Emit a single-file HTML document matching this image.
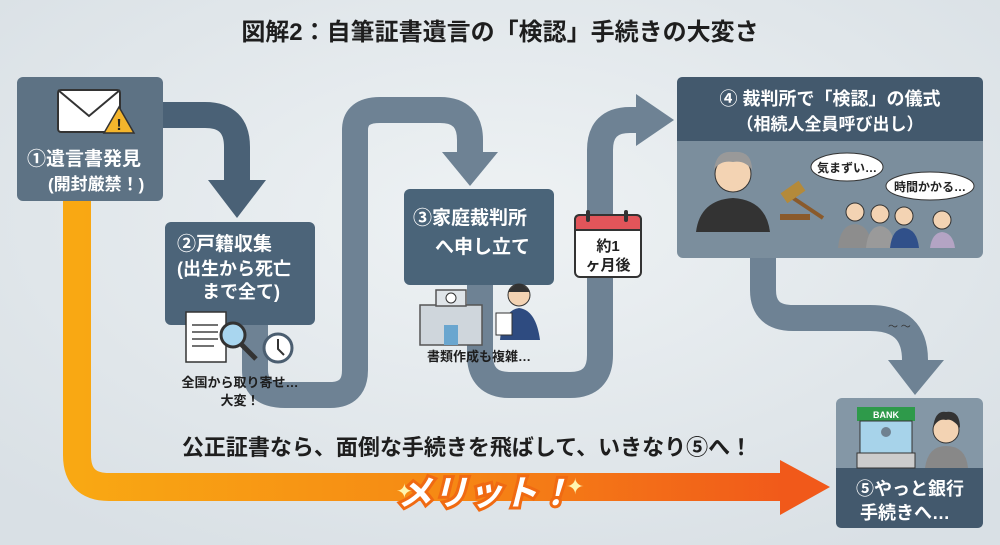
<!DOCTYPE html>
<html><head><meta charset="utf-8"><style>
html,body{margin:0;padding:0;background:#e4eaee;}
svg{display:block;font-family:"Liberation Sans","Noto Sans CJK JP",sans-serif;}
</style></head><body>
<svg width="1000" height="545" viewBox="0 0 1000 545" xmlns="http://www.w3.org/2000/svg">
<defs>
<radialGradient id="bg" cx="50%" cy="40%" r="70%"><stop offset="0" stop-color="#eef2f4"/><stop offset="1" stop-color="#d9e0e5"/></radialGradient>
<linearGradient id="og" x1="0" y1="0" x2="1" y2="0"><stop offset="0" stop-color="#f9a813"/><stop offset="0.5" stop-color="#f68a14"/><stop offset="1" stop-color="#f1591a"/></linearGradient>
</defs>
<rect width="1000" height="545" fill="url(#bg)"/>
<text x="500" y="40" text-anchor="middle" font-size="24" font-weight="bold" fill="#1e1e1e">図解2：自筆証書遺言の「検認」手続きの大変さ</text>

<path d="M77 200 V455 Q77 487 109 487 H790" fill="none" stroke="url(#og)" stroke-width="28"/>
<polygon points="780,460 830,487 780,515" fill="#f1591a"/>

<path d="M160 115 H205 Q237 115 237 147 V190" fill="none" stroke="#4a6176" stroke-width="26"/>
<polygon points="208,180 266,180 237,218" fill="#4a6176"/>

<path d="M255 320 V370 Q255 395 285 395 H330 Q355 395 355 370 V130 Q355 110 380 110 H440 Q470 110 470 140 V160" fill="none" stroke="#6e8294" stroke-width="26"/>
<polygon points="442,152 498,152 470,186" fill="#6e8294"/>

<path d="M480 280 V355 Q480 385 510 385 H570 Q600 385 600 355 V150 Q600 120 630 120 H648" fill="none" stroke="#6e8294" stroke-width="26"/>
<polygon points="636,94 674,120 636,146" fill="#6e8294"/>

<path d="M763 255 V290 Q763 318 793 318 H870 Q915 318 915 360 V365" fill="none" stroke="#6e8294" stroke-width="26"/>
<polygon points="888,360 944,360 915,395" fill="#6e8294"/>
<text x="888" y="330" font-size="10" fill="#333">～ ～</text>

<rect x="17" y="77" width="146" height="124" rx="6" fill="#5d7284"/>
<rect x="58" y="90" width="62" height="42" rx="3" fill="#fff" stroke="#333" stroke-width="2"/>
<path d="M58 90 L89 116 L120 90" fill="none" stroke="#333" stroke-width="2"/>
<polygon points="119,107 104,133 134,133" fill="#f4b52c" stroke="#333" stroke-width="1.5"/>
<text x="119" y="130" text-anchor="middle" font-size="16" font-weight="bold" fill="#222">!</text>
<text x="27" y="165" font-size="19" font-weight="bold" fill="#fff">①遺言書発見</text>
<text x="48" y="190" font-size="17" font-weight="bold" fill="#fff">(開封厳禁！)</text>

<rect x="165" y="222" width="150" height="103" rx="6" fill="#4c6479"/>
<text x="177" y="250" font-size="19" font-weight="bold" fill="#fff">②戸籍収集</text>
<text x="177" y="275" font-size="18" font-weight="bold" fill="#fff">(出生から死亡</text>
<text x="202" y="298" font-size="18" font-weight="bold" fill="#fff">まで全て)</text>
<rect x="186" y="312" width="40" height="50" fill="#fff" stroke="#333" stroke-width="1.5"/>
<g stroke="#444" stroke-width="1.5"><line x1="192" y1="325" x2="218" y2="325"/><line x1="192" y1="332" x2="218" y2="332"/><line x1="192" y1="339" x2="218" y2="339"/><line x1="192" y1="346" x2="214" y2="346"/></g>
<circle cx="233" cy="335" r="12" fill="#a9d6ef" stroke="#333" stroke-width="3"/>
<line x1="241" y1="344" x2="256" y2="359" stroke="#333" stroke-width="5"/>
<circle cx="278" cy="348" r="14" fill="#fff" stroke="#4b5e70" stroke-width="3"/>
<path d="M278 339 V349 L284 355" stroke="#333" stroke-width="2" fill="none"/>
<text x="240" y="387" text-anchor="middle" font-size="13" font-weight="bold" fill="#1e1e1e">全国から取り寄せ…</text>
<text x="240" y="405" text-anchor="middle" font-size="13" font-weight="bold" fill="#1e1e1e">大変！</text>

<rect x="404" y="189" width="150" height="96" rx="6" fill="#4a6479"/>
<text x="413" y="224" font-size="19" font-weight="bold" fill="#fff">③家庭裁判所</text>
<text x="435" y="253" font-size="19" font-weight="bold" fill="#fff">へ申し立て</text>
<rect x="420" y="305" width="62" height="40" fill="#cfd6dc" stroke="#555" stroke-width="1.5"/>
<rect x="436" y="290" width="30" height="16" fill="#dfe4e8" stroke="#555" stroke-width="1.5"/>
<circle cx="451" cy="298" r="5" fill="#fff" stroke="#333"/>
<rect x="444" y="325" width="14" height="20" fill="#6aa6cf"/>
<circle cx="519" cy="295" r="11" fill="#f3d3b3" stroke="#333"/>
<path d="M508 292 Q519 276 530 292" fill="#333"/>
<path d="M500 340 Q503 310 519 308 Q536 310 540 340 Z" fill="#2e4b80"/>
<rect x="496" y="313" width="16" height="22" fill="#fff" stroke="#333"/>
<text x="479" y="361" text-anchor="middle" font-size="13" font-weight="bold" fill="#1e1e1e">書類作成も複雑…</text>

<rect x="575" y="215" width="66" height="62" rx="5" fill="#fff" stroke="#333" stroke-width="2"/>
<path d="M575 230 V220 Q575 215 580 215 H636 Q641 215 641 220 V230 Z" fill="#e2555a" stroke="#333" stroke-width="2"/>
<rect x="586" y="210" width="4" height="12" rx="2" fill="#333"/><rect x="624" y="210" width="4" height="12" rx="2" fill="#333"/>
<text x="608" y="251" text-anchor="middle" font-size="15" font-weight="bold" fill="#222">約1</text>
<text x="608" y="270" text-anchor="middle" font-size="15" font-weight="bold" fill="#222">ヶ月後</text>

<rect x="677" y="77" width="306" height="181" rx="6" fill="#7b8e9d"/>
<path d="M677 141 V83 Q677 77 683 77 H977 Q983 77 983 83 V141 Z" fill="#43596d"/>
<text x="830" y="105" text-anchor="middle" font-size="18" font-weight="bold" fill="#fff">④ 裁判所で「検認」の儀式</text>
<text x="830" y="130" text-anchor="middle" font-size="17" font-weight="bold" fill="#fff">（相続人全員呼び出し）</text>
<path d="M696 232 Q700 200 733 198 Q766 200 770 232 Z" fill="#333"/>
<circle cx="733" cy="174" r="18" fill="#f3d3b3" stroke="#333"/>
<path d="M714 170 Q716 150 733 152 Q752 150 752 170 Q745 160 733 162 Q720 160 714 170Z" fill="#999"/>
<rect x="780" y="214" width="30" height="6" fill="#8a5a2b"/>
<line x1="793" y1="198" x2="823" y2="218" stroke="#8a5a2b" stroke-width="4"/>
<rect x="782" y="186" width="22" height="12" fill="#b48a3a" transform="rotate(-35 793 192)"/>
<ellipse cx="847" cy="167" rx="36" ry="14" fill="#fff" stroke="#333"/>
<text x="847" y="172" text-anchor="middle" font-size="12" font-weight="bold" fill="#222">気まずい…</text>
<ellipse cx="930" cy="186" rx="44" ry="14" fill="#fff" stroke="#333"/>
<text x="930" y="191" text-anchor="middle" font-size="12" font-weight="bold" fill="#222">時間かかる…</text>
<g fill="#f3d3b3" stroke="#333"><circle cx="855" cy="212" r="9"/><circle cx="880" cy="214" r="9"/><circle cx="904" cy="216" r="9"/><circle cx="942" cy="220" r="9"/></g>
<g><path d="M838 248 Q840 225 855 224 Q870 225 872 248Z" fill="#8d8d8d"/><path d="M866 248 Q868 227 880 226 Q893 227 895 248Z" fill="#9a9a9a"/><path d="M890 248 Q892 229 904 228 Q917 229 919 248Z" fill="#30508a"/><path d="M930 248 Q932 233 942 232 Q953 233 955 248Z" fill="#b4a4c4"/></g>

<rect x="836" y="398" width="147" height="130" rx="6" fill="#8497a6"/>
<path d="M836 468 H983 V522 Q983 528 977 528 H842 Q836 528 836 522 Z" fill="#43596d"/>
<rect x="857" y="407" width="58" height="14" fill="#2e9a4a"/>
<text x="886" y="418" text-anchor="middle" font-size="9" font-weight="bold" fill="#fff">BANK</text>
<rect x="860" y="421" width="52" height="32" fill="#a7d3ea" stroke="#333"/>
<circle cx="886" cy="432" r="5" fill="#6f8190"/>
<rect x="857" y="453" width="58" height="15" fill="#ccc" stroke="#333"/>
<circle cx="946" cy="430" r="13" fill="#f3d3b3" stroke="#333"/>
<path d="M933 428 Q935 410 946 412 Q960 410 960 428 Q952 418 946 420 Q938 418 933 428Z" fill="#333"/>
<path d="M925 468 Q928 446 946 446 Q966 446 968 468Z" fill="#888"/>
<text x="910" y="495" text-anchor="middle" font-size="18" font-weight="bold" fill="#fff">⑤やっと銀行</text>
<text x="905" y="519" text-anchor="middle" font-size="18" font-weight="bold" fill="#fff">手続きへ…</text>

<text x="467" y="455" text-anchor="middle" font-size="22" font-weight="bold" fill="#1e1e1e">公正証書なら、面倒な手続きを飛ばして、いきなり⑤へ！</text>
<text x="485" y="505" text-anchor="middle" font-size="35" font-weight="bold" font-style="italic" fill="#fff" stroke="#f06a12" stroke-width="6" paint-order="stroke">メリット！</text>
<text x="396" y="498" font-size="20" fill="#fff6b0">✦</text>
<text x="566" y="494" font-size="22" fill="#fff6b0">✦</text>
</svg>
</body></html>
